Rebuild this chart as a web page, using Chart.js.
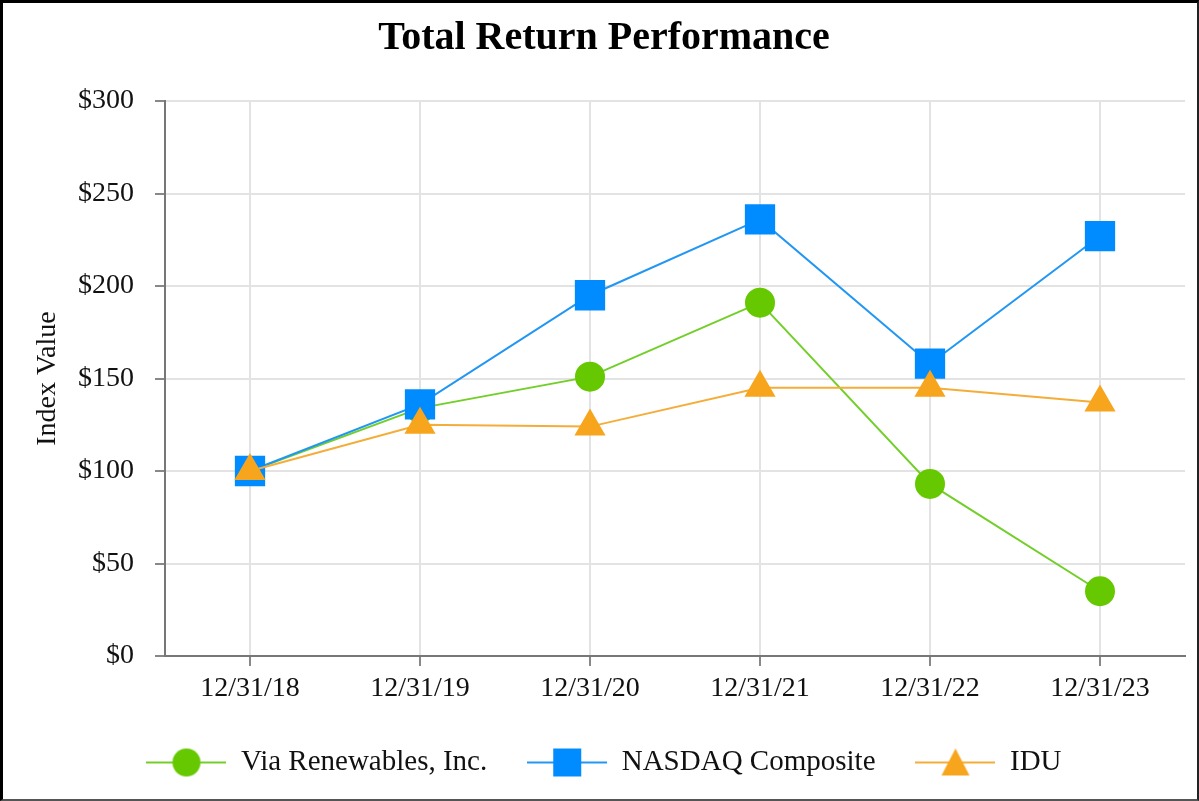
<!DOCTYPE html>
<html>
<head>
<meta charset="utf-8">
<script src="https://cdn.jsdelivr.net/npm/chart.js@4.4.0/dist/chart.umd.min.js"></script>
<style>
  html, body { margin: 0; padding: 0; background: #fff; }
  #wrap { position: absolute; left: 0; top: 0; width: 1199px; height: 801px; box-sizing: border-box;
          border-left: 3px solid #000; border-top: 3px solid #000; border-right: 2px solid #222; border-bottom: 2px solid #555; }
  #c { display: block; }
</style>
</head>
<body>
<div id="wrap"><canvas id="c" width="1194" height="796"></canvas></div>
<script>
const categories = ['12/31/18', '12/31/19', '12/31/20', '12/31/21', '12/31/22', '12/31/23'];
const viaValues = [100, 134, 151, 191, 93, 35];
const nasdaqValues = [100, 136, 195, 236, 158, 227];
const iduValues = [100, 125, 124, 145, 145, 137];
const yTicks = [0, 50, 100, 150, 200, 250, 300];

const GREEN = '#66c800', GREEN_LINE = '#72cf2a';
const BLUE = '#008cff', BLUE_LINE = '#2196f3';
const ORANGE = '#f7a51d', ORANGE_LINE = '#f5ad3a';
const FONT = "'Liberation Serif', 'Times New Roman', serif";

function legendIcon(shape, fill, lineColor) {
  const cv = document.createElement('canvas');
  cv.width = 80; cv.height = 32;
  const g = cv.getContext('2d');
  g.strokeStyle = lineColor; g.lineWidth = 2;
  g.beginPath(); g.moveTo(0, 16); g.lineTo(80, 16); g.stroke();
  g.fillStyle = fill;
  g.beginPath();
  if (shape === 'circle') { g.arc(40, 16, 14, 0, Math.PI * 2); }
  else if (shape === 'rect') { g.rect(26, 2, 28, 28); }
  else { g.moveTo(40, 2); g.lineTo(54, 29); g.lineTo(26, 29); g.closePath(); }
  g.fill();
  return cv;
}
const icons = [legendIcon('circle', GREEN, GREEN_LINE), legendIcon('rect', BLUE, BLUE_LINE), legendIcon('triangle', ORANGE, ORANGE_LINE)];

new Chart(document.getElementById('c'), {
  type: 'line',
  data: {
    labels: categories,
    datasets: [
      { label: 'Via Renewables, Inc.', data: viaValues, order: 2, borderColor: GREEN_LINE, backgroundColor: GREEN,
        pointBackgroundColor: GREEN, pointBorderColor: GREEN, pointStyle: 'circle', pointRadius: 14, pointHoverRadius: 14, borderWidth: 2, tension: 0 },
      { label: 'NASDAQ Composite', data: nasdaqValues, order: 1, borderColor: BLUE_LINE, backgroundColor: BLUE,
        pointBackgroundColor: BLUE, pointBorderColor: BLUE, pointStyle: 'rect', pointRadius: 20, pointHoverRadius: 20, borderWidth: 2, tension: 0 },
      { label: 'IDU', data: iduValues, order: 0, borderColor: ORANGE_LINE, backgroundColor: ORANGE,
        pointBackgroundColor: ORANGE, pointBorderColor: ORANGE, pointStyle: 'triangle', pointRadius: 16, pointHoverRadius: 16, borderWidth: 2, tension: 0 }
    ]
  },
  options: {
    responsive: false,
    animation: false,
    events: [],
    layout: { autoPadding: false, padding: { left: 20, right: 12, top: 0, bottom: 12 } },
    plugins: {
      title: { display: true, text: 'Total Return Performance', color: '#000',
               font: { family: FONT, size: 40, weight: 'bold' }, padding: { top: 12, bottom: 38 } },
      legend: { position: 'bottom',
        labels: { usePointStyle: true, pointStyleWidth: 80, padding: 40, color: '#111',
                  font: { family: FONT, size: 29 },
                  generateLabels: (chart) => chart.data.datasets.map((ds, i) => ({
                    text: ds.label, pointStyle: icons[i], fillStyle: ds.backgroundColor,
                    strokeStyle: ds.borderColor, lineWidth: 0, hidden: false, datasetIndex: i, fontColor: '#111'
                  })) } },
      tooltip: { enabled: false }
    },
    scales: {
      x: {
        offset: true,
        grid: { offset: false, color: '#e3e3e3', lineWidth: 2, tickColor: '#888', tickLength: 10, drawTicks: true },
        border: { color: '#777', width: 2 },
        ticks: { color: '#111', font: { family: FONT, size: 28 }, padding: 6, maxRotation: 0 },
        afterFit: (s) => { s.height = 52; }
      },
      y: {
        min: 0, max: 300,
        afterBuildTicks: (s) => { s.ticks = yTicks.map(v => ({ value: v })); },
        grid: { color: '#e3e3e3', lineWidth: 2, tickColor: '#888', tickLength: 10 },
        border: { color: '#777', width: 2 },
        ticks: { color: '#111', font: { family: FONT, size: 28 }, padding: 21, callback: (v) => '$' + v },
        title: { display: true, text: 'Index Value', color: '#111', font: { family: FONT, size: 28 }, padding: { top: 8, bottom: 0 } },
        afterFit: (s) => { s.width = 142; }
      }
    }
  }
});
</script>
</body>
</html>
